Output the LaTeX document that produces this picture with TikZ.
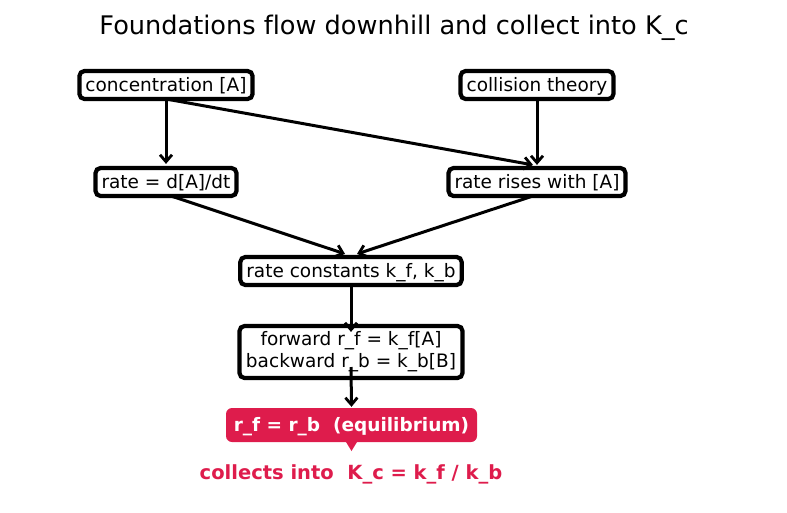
\documentclass[tikz,border=0pt]{standalone}
\usepackage{fontspec}
\setmainfont{DejaVu Sans}[Ligatures={NoCommon,NoRequired}]
\usetikzlibrary{arrows.meta}
\definecolor{crim}{RGB}{222,28,76}
\tikzset{
  box/.style={draw=black, line width=4.2pt, rounded corners=5pt, fill=white,
    font=\fontsize{18.5}{22}\selectfont, inner xsep=6pt, inner ysep=5pt,
    text height=15pt, text depth=3pt},
  conn/.style={line width=3pt, -{Straight Barb[length=7pt,width=12pt,line width=2.8pt]}},
}
\begin{document}
\begin{tikzpicture}[x=1pt,y=-1pt]
\useasboundingbox (0,0) rectangle (787,512);
\node[font=\fontsize{25.6}{30}\selectfont] (title) at (394,28) {Foundations flow downhill and collect into K\_c};

\node[box] (conc) at (166,85) {concentration [A]};
\node[box] (coll) at (537,85) {collision theory};
\node[box] (rate) at (166,182) {rate = d[A]/dt};
\node[box] (rises) at (537,182) {rate rises with [A]};
\node[box] (kons) at (351,271) {rate constants k\_f, k\_b};
\node[box, align=center, text height=, text depth=, minimum height=52pt, minimum width=223pt] (fb) at (351,352) {forward r\_f = k\_f[A]\\backward r\_b = k\_b[B]};
\node[fill=crim, rounded corners=6pt, text=white, font=\bfseries\fontsize{18.5}{22}\selectfont,
  minimum width=251pt, minimum height=34pt, inner sep=0pt, text height=15pt, text depth=3pt] (eq) at (351.5,425) {r\_f = r\_b\ \ (equilibrium)};
\coordinate (tip) at (351.5,451);
\fill[crim] ([xshift=-6pt,yshift=1pt]eq.south) -- (tip) -- ([xshift=6pt,yshift=1pt]eq.south) -- cycle;
\node[text=crim, font=\bfseries\fontsize{19.5}{23}\selectfont] (kc) at (351,474) {collects into\ \ K\_c = k\_f / k\_b};

\coordinate (c1) at (166,99);
\coordinate (r1) at (171,196);
\coordinate (s1) at (533,196);
\coordinate (k1) at (351,287);
\coordinate (f1) at (351,367);
\draw[conn] (c1) -- ([yshift=2pt]rate.north);
\draw[conn] (c1) -- ([xshift=-4pt,yshift=1pt]rises.north);
\draw[conn] (coll.south) -- ([yshift=1pt]rises.north);
\draw[conn] (r1) -- ([xshift=-6pt,yshift=1pt]kons.north);
\draw[conn] (s1) -- ([xshift=6pt,yshift=1pt]kons.north);
\draw[conn] (k1) -- ([yshift=-8pt]fb.north);
\draw[conn] (f1) -- ([yshift=1pt]eq.north);
\end{tikzpicture}
\end{document}
